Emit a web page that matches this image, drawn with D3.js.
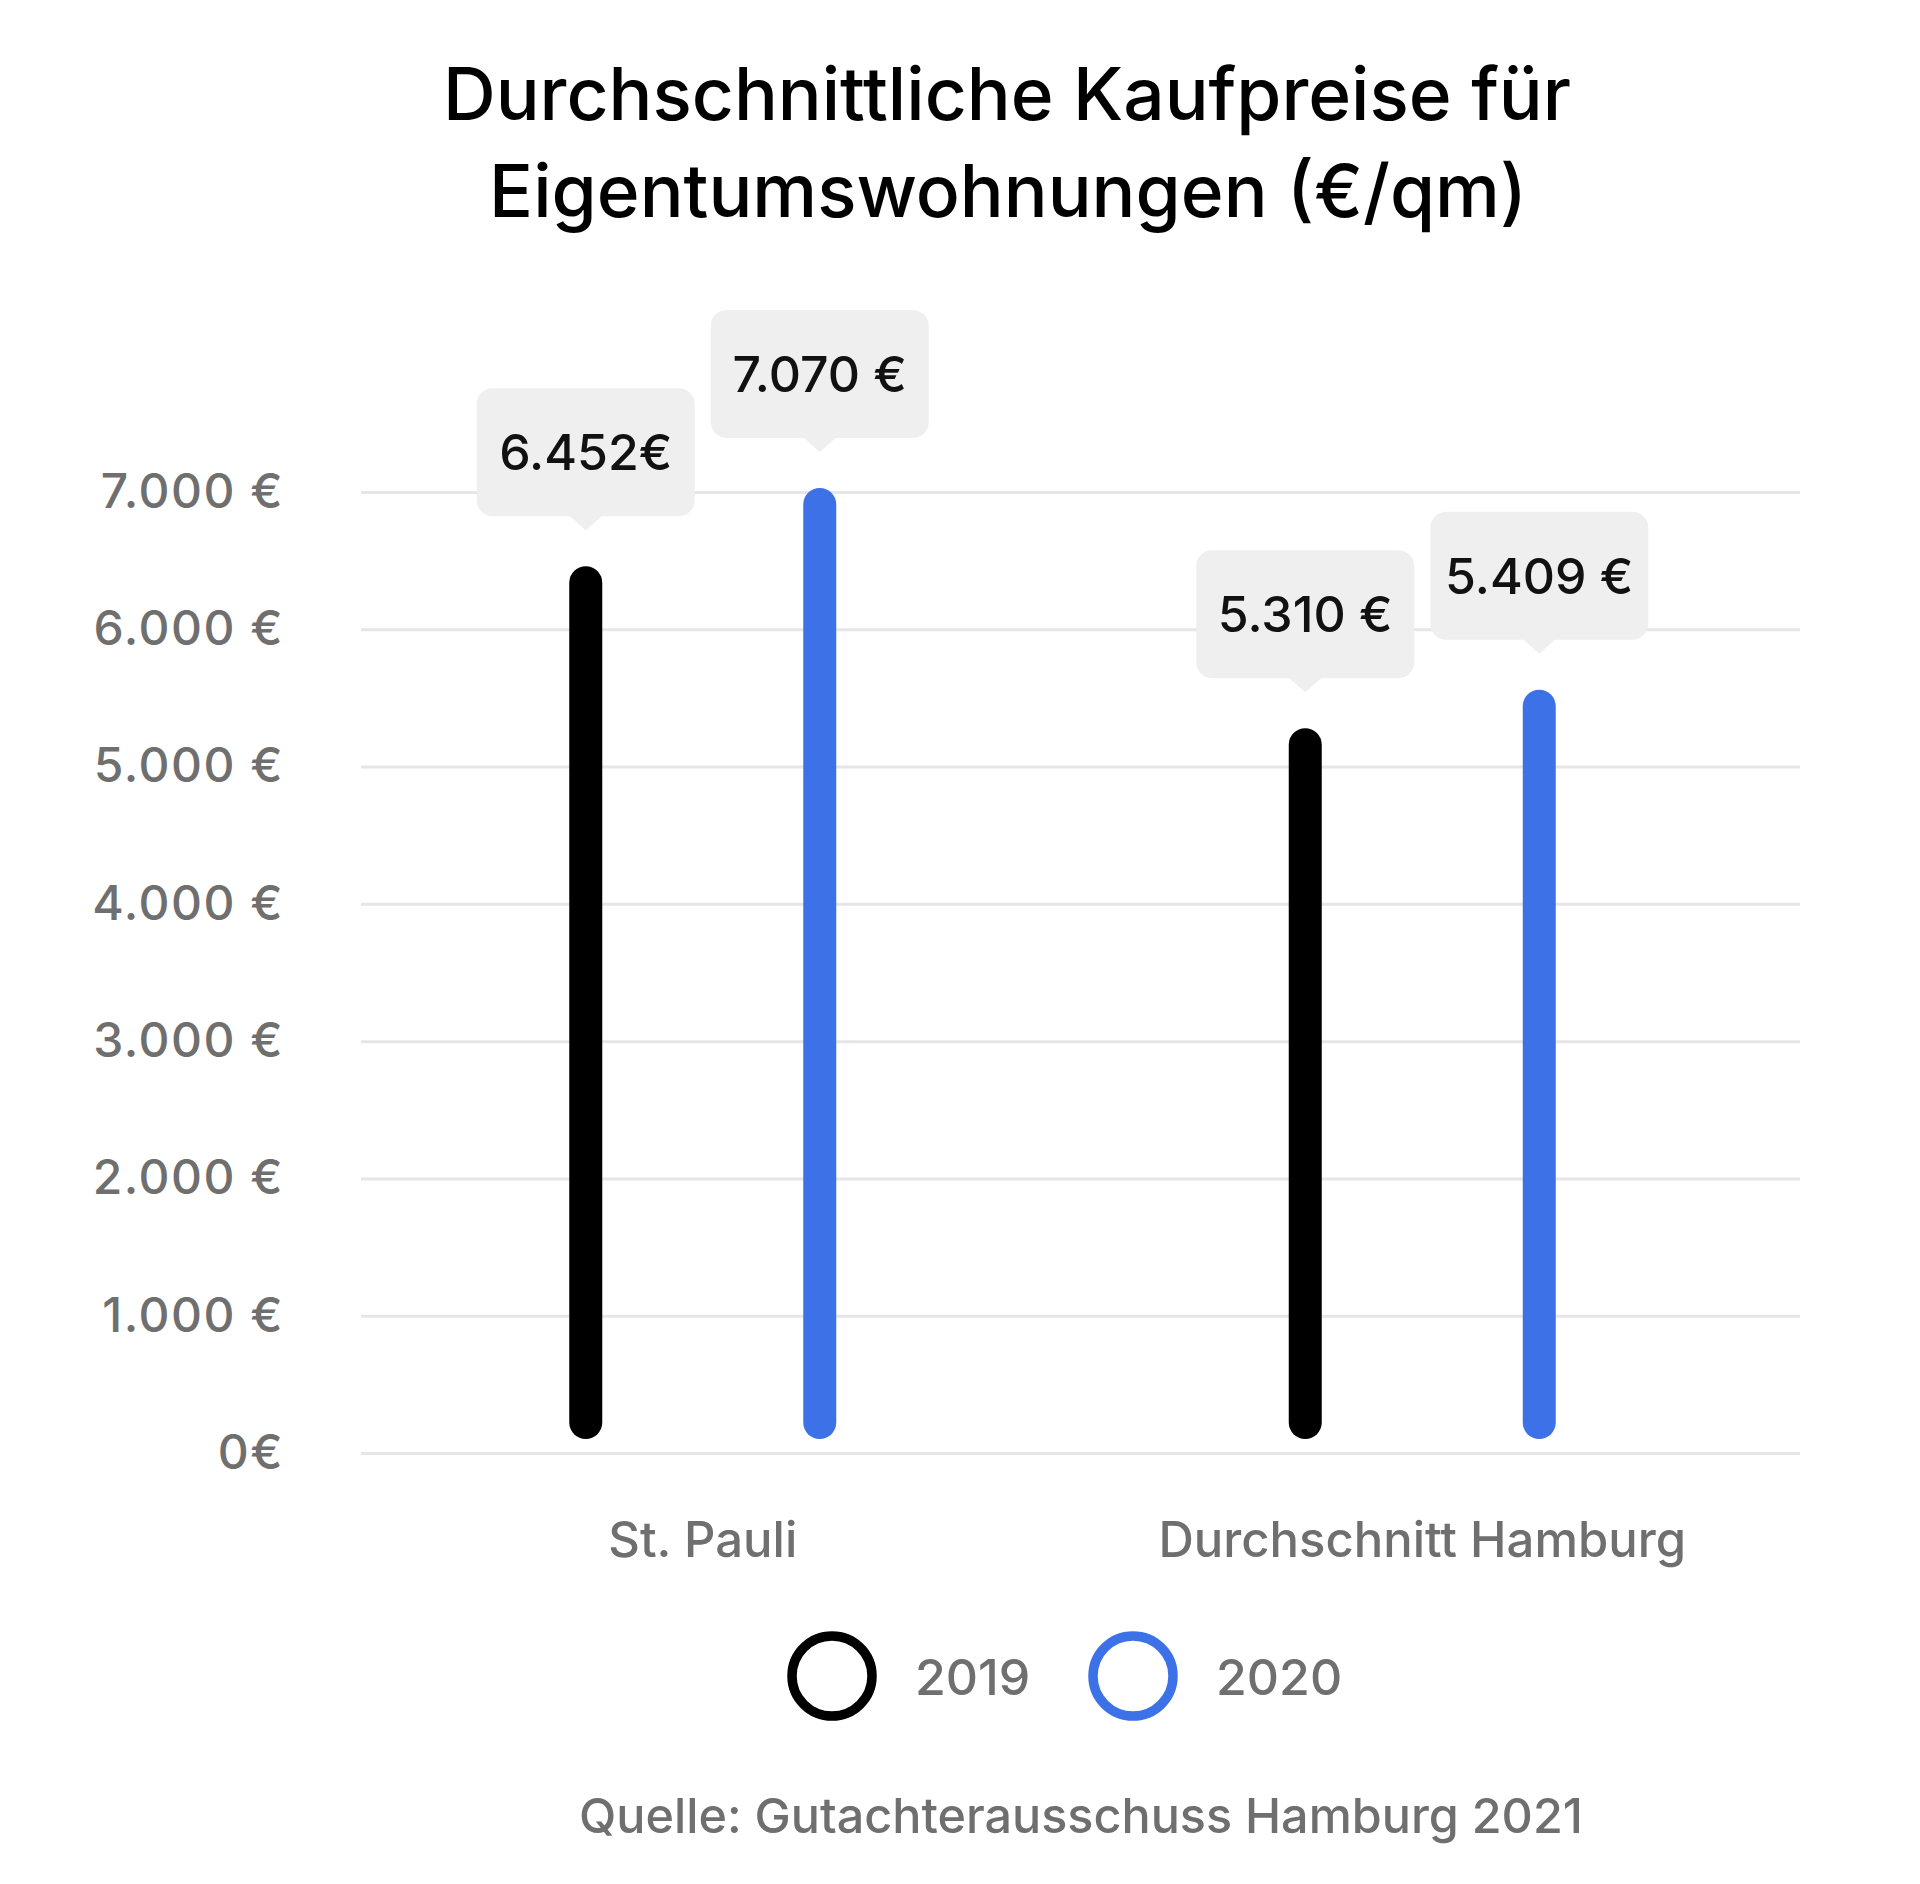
<!DOCTYPE html>
<html>
<head>
<meta charset="utf-8">
<script src="https://cdn.jsdelivr.net/npm/d3@7"></script>
<style>
  body { margin: 0; background: #fff; }
  svg { display: block; font-family: Inter, "Noto Sans", sans-serif; }
</style>
</head>
<body>
<svg id="chart" width="1920" height="1884"></svg>
<script>
// data
var categories = ["St. Pauli", "Durchschnitt Hamburg"];
var years = ["2019", "2020"];
var values2019 = [6460, 5280];
var values2020 = [7030, 5560];
var labels2019 = ["6.452€", "5.310 €"];
var labels2020 = ["7.070 €", "5.409 €"];
var tickValues = [0, 1000, 2000, 3000, 4000, 5000, 6000, 7000];
var tickLabels = ["0€", "1.000 €", "2.000 €", "3.000 €", "4.000 €", "5.000 €", "6.000 €", "7.000 €"];
var colors = ["#000000", "#3d71e8"];

var svg = d3.select("#chart");

var y = d3.scaleLinear().domain([0, 7000]).range([1453, 492]);
var x = d3.scaleBand().domain(categories).range([343, 1782]).padding(0);
var xs = d3.scalePoint().domain(years).range([-117, 117]);

// title
svg.append("text")
  .attr("x", 1007).attr("y", 120)
  .attr("text-anchor", "middle")
  .attr("font-size", 73).attr("font-weight", 500)
  .attr("fill", "#000")
  .text("Durchschnittliche Kaufpreise für");
svg.append("text")
  .attr("x", 1008).attr("y", 217)
  .attr("text-anchor", "middle")
  .attr("font-size", 73).attr("font-weight", 500)
  .attr("fill", "#000")
  .text("Eigentumswohnungen (€/qm)");

// gridlines
var grid = svg.append("g").attr("transform", "translate(361,0)")
  .call(d3.axisLeft(y).tickValues(tickValues).tickSize(-1439).tickFormat(""));
grid.select(".domain").remove();
grid.selectAll(".tick line").attr("stroke", "#e6e6e6").attr("stroke-width", 3);

// y labels
var yAxis = svg.append("g").attr("transform", "translate(284,0)")
  .call(d3.axisLeft(y).tickValues(tickValues).tickSize(0).tickPadding(0)
    .tickFormat(function(d, i) { return tickLabels[i]; }));
yAxis.select(".domain").remove();
yAxis.selectAll("text")
  .attr("font-family", "Inter, sans-serif")
  .attr("font-size", 48).attr("font-weight", 500)
  .attr("letter-spacing", 1.5)
  .attr("fill", "#6f6f6f");

// x labels
var xAxis = svg.append("g").attr("transform", "translate(0,1557)")
  .call(d3.axisBottom(x).tickSize(0).tickPadding(0));
xAxis.select(".domain").remove();
xAxis.selectAll("text")
  .attr("dy", 0)
  .attr("font-family", "Inter, sans-serif")
  .attr("font-size", 49).attr("font-weight", 500)
  .attr("fill", "#6f6f6f");

// bars
var rows = [];
categories.forEach(function(c, i) {
  rows.push({cat: c, year: years[0], v: values2019[i], label: labels2019[i], color: colors[0]});
  rows.push({cat: c, year: years[1], v: values2020[i], label: labels2020[i], color: colors[1]});
});

var bw = 33;
svg.append("g").selectAll("rect").data(rows).enter().append("rect")
  .attr("x", function(d) { return x(d.cat) + x.bandwidth() / 2 + xs(d.year) - bw / 2; })
  .attr("y", function(d) { return y(d.v); })
  .attr("width", bw)
  .attr("height", function(d) { return y(0) - 14 - y(d.v); })
  .attr("rx", bw / 2)
  .attr("fill", function(d) { return d.color; });

// value callouts
var boxW = 218, boxH = 128, tipH = 14, tipW = 17, gap = 36;
var tips = svg.append("g").selectAll("g").data(rows).enter().append("g")
  .attr("transform", function(d) {
    var cx = x(d.cat) + x.bandwidth() / 2 + xs(d.year);
    return "translate(" + cx + "," + (y(d.v) - gap) + ")";
  });
tips.append("rect")
  .attr("x", -boxW / 2).attr("y", -tipH - boxH)
  .attr("width", boxW).attr("height", boxH)
  .attr("rx", 16)
  .attr("fill", "#efefef");
tips.append("path")
  .attr("d", "M" + (-tipW) + "," + (-tipH - 1) + "L0,0L" + tipW + "," + (-tipH - 1) + "Z")
  .attr("fill", "#efefef");
tips.append("text")
  .attr("x", 0).attr("y", -tipH - boxH / 2 + 18)
  .attr("text-anchor", "middle")
  .attr("font-size", 50).attr("font-weight", 500)
  .attr("fill", "#111")
  .text(function(d) { return d.label; });

// legend
var legX = d3.scalePoint().domain(years).range([832, 1133]);
var leg = svg.append("g").selectAll("g").data(years).enter().append("g")
  .attr("transform", function(d) { return "translate(" + legX(d) + ",1676)"; });
leg.append("circle")
  .attr("r", 40)
  .attr("fill", "none")
  .attr("stroke", function(d, i) { return colors[i]; })
  .attr("stroke-width", 9.5);
leg.append("text")
  .attr("x", 83).attr("y", 19)
  .attr("font-size", 50).attr("font-weight", 500)
  .attr("fill", "#6f6f6f")
  .text(function(d) { return d; });

// source
svg.append("text")
  .attr("x", 1081).attr("y", 1833)
  .attr("text-anchor", "middle")
  .attr("font-size", 48.5).attr("font-weight", 500)
  .attr("fill", "#6f6f6f")
  .text("Quelle: Gutachterausschuss Hamburg 2021");
</script>
</body>
</html>
